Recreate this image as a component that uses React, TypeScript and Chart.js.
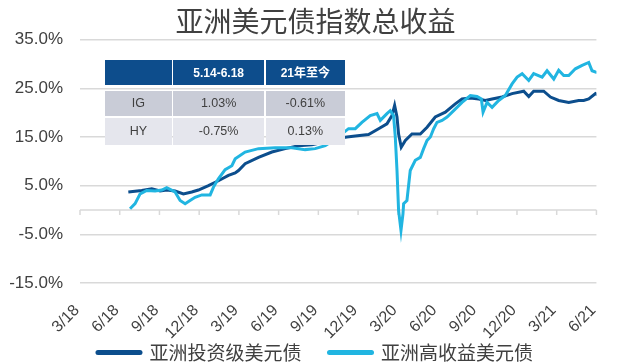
import React, { useEffect, useRef } from 'react';
import { Chart, registerables } from 'chart.js';

Chart.register(...registerables);

// ---------- data ----------
const chartTitle = '亚洲美元债指数总收益';
const quarterLabels = ['3/18', '6/18', '9/18', '12/18', '3/19', '6/19', '9/19', '12/19', '3/20', '6/20', '9/20', '12/20', '3/21', '6/21'];
const yTicks = [-15, -5, 5, 15, 25, 35];
const seriesNames = ['亚洲投资级美元债', '亚洲高收益美元债'];

// months since Mar 2018
const igMonths = [3.65, 4.66, 5.42, 6.05, 6.55, 7.18, 7.81, 8.44, 8.94, 9.7, 10.45, 11.21, 11.72, 11.97, 12.47, 13.48, 14.49, 15.5, 16.5, 17.51, 18.52, 19.43, 20.16, 20.79, 21.79, 22.55, 23.18, 23.56, 23.76, 23.94, 24.06, 24.26, 24.57, 25.07, 25.7, 26.21, 26.83, 27.59, 28.34, 28.85, 29.48, 30.11, 30.61, 31.12, 31.87, 32.63, 33.51, 33.89, 34.26, 35.02, 35.53, 36.15, 36.91, 37.66, 38.04, 38.42, 38.93, 39.08];
const igValues = [3.7, 4.0, 4.35, 3.9, 4.1, 3.9, 3.3, 3.7, 4.1, 5.0, 6.0, 7.1, 7.6, 8.1, 9.5, 10.8, 11.9, 12.6, 13.2, 13.4, 14.0, 14.7, 15.0, 15.2, 15.5, 16.7, 17.7, 19.4, 21.5, 19.1, 15.6, 12.9, 14.3, 15.6, 15.6, 17.0, 19.1, 20.1, 21.8, 22.8, 23.0, 22.8, 22.5, 22.8, 23.2, 23.9, 24.4, 23.3, 24.4, 24.4, 23.2, 22.5, 22.1, 22.5, 22.5, 22.8, 23.9, 23.7];

const hyMonths = [3.78, 4.16, 4.54, 5.04, 5.67, 6.18, 6.55, 7.18, 7.56, 7.94, 8.31, 8.69, 9.2, 9.83, 10.08, 10.45, 10.96, 11.47, 11.72, 12.47, 13.48, 14.74, 16.0, 17.0, 17.76, 18.52, 19.27, 20.28, 20.79, 21.29, 21.92, 22.43, 22.68, 23.18, 23.43, 23.68, 23.81, 23.94, 24.06, 24.24, 24.39, 24.44, 24.69, 24.94, 25.32, 25.7, 25.95, 26.21, 26.46, 26.71, 26.96, 27.34, 27.72, 28.22, 28.85, 29.48, 29.98, 30.31, 30.44, 30.74, 31.12, 31.62, 32.12, 32.63, 33.01, 33.39, 33.89, 34.26, 34.9, 35.27, 35.78, 36.15, 36.53, 36.91, 37.41, 37.92, 38.42, 38.67, 39.05];
const hyValues = [0.25, 1.3, 3.3, 4.0, 3.9, 4.1, 4.6, 3.7, 1.95, 1.3, 1.95, 2.6, 3.1, 3.1, 4.7, 6.4, 8.3, 9.1, 10.5, 11.9, 12.6, 12.8, 12.8, 12.4, 12.6, 13.2, 14.5, 16.7, 16.7, 18.0, 19.4, 19.8, 18.4, 19.8, 20.4, 19.4, 15.0, 8.1, -0.1, -4.2, -0.8, 1.3, 1.95, 8.1, 10.2, 10.8, 12.6, 14.3, 15.0, 16.7, 18.0, 18.4, 19.1, 20.4, 22.1, 23.5, 23.3, 22.8, 20.1, 22.1, 21.1, 22.5, 23.5, 25.9, 27.3, 28.0, 26.6, 28.0, 27.3, 28.6, 26.9, 28.7, 27.6, 27.6, 29.0, 29.7, 30.3, 28.6, 28.2];

const tableHeader = ['', '5.14-6.18', '21年至今'];
const tableRows = [
  ['IG', '1.03%', '-0.61%'],
  ['HY', '-0.75%', '0.13%'],
];

// ---------- styles ----------
const IG_COLOR = '#0c4e8d';
const HY_COLOR = '#21b5e1';
const GRID_COLOR = '#d9d9d9';
const TEXT_COLOR = '#404040';
const LATIN = "'Liberation Sans', Arial, sans-serif";
const CJK = "'Noto Sans CJK SC', 'Liberation Sans', sans-serif";
const TABLE_FONT = "'Liberation Sans', Arial, 'Noto Sans CJK SC', sans-serif";

const zip = (xs: number[], ys: number[]) => xs.map((x, i) => ({ x, y: ys[i] }));

const zeroAxisPlugin = {
  id: 'zeroAxis',
  beforeDatasetsDraw(chart: any) {
    const { ctx, chartArea, scales } = chart;
    const y0 = scales.y.getPixelForValue(0);
    ctx.save();
    ctx.strokeStyle = GRID_COLOR;
    ctx.lineWidth = 1.5;
    ctx.beginPath();
    ctx.moveTo(chartArea.left, y0);
    ctx.lineTo(chartArea.right, y0);
    scales.x.ticks.forEach((t: any) => {
      const x = scales.x.getPixelForValue(t.value);
      ctx.moveTo(x, y0);
      ctx.lineTo(x, y0 + 5);
    });
    ctx.stroke();
    ctx.restore();
  },
};

const colLeft = [105, 173.3, 265.7];
const colWidth = [66.7, 90.7, 79.3];
const rowTop = [60, 91, 118];
const rowHeight = [25, 25, 27];
const rowBg = ['#0d4d8c', '#c9ccd7', '#e5e6ed'];

export default function App() {
  const canvasRef = useRef<HTMLCanvasElement | null>(null);

  useEffect(() => {
    if (!canvasRef.current) return;
    const chart = new Chart(canvasRef.current, {
      type: 'line',
      data: {
        datasets: [
          {
            label: seriesNames[0],
            data: zip(igMonths, igValues),
            borderColor: IG_COLOR,
            backgroundColor: IG_COLOR,
            borderWidth: 3,
            pointRadius: 0,
            tension: 0,
            order: 1,
          },
          {
            label: seriesNames[1],
            data: zip(hyMonths, hyValues),
            borderColor: HY_COLOR,
            backgroundColor: HY_COLOR,
            borderWidth: 3,
            pointRadius: 0,
            tension: 0,
            order: 0,
          },
        ],
      },
      options: {
        responsive: false,
        devicePixelRatio: 1,
        animation: false,
        layout: { padding: { left: 34, right: 23, top: 0, bottom: 0 } },
        plugins: {
          tooltip: { enabled: false },
          title: {
            display: true,
            text: chartTitle,
            color: TEXT_COLOR,
            font: { family: CJK, size: 28, weight: 'normal' },
            padding: { top: 5, bottom: 1 },
          },
          legend: {
            position: 'bottom',
            labels: {
              usePointStyle: true,
              pointStyle: 'line',
              pointStyleWidth: 42,
              padding: 28,
              color: TEXT_COLOR,
              font: { family: CJK, size: 19 },
              generateLabels: (c: any) =>
                (Chart.defaults.plugins.legend.labels as any)
                  .generateLabels(c)
                  .map((l: any) => ({ ...l, lineWidth: 5, lineCap: 'round' }))
                  .sort((a: any, b: any) => a.datasetIndex - b.datasetIndex),
            },
          },
        },
        scales: {
          x: {
            type: 'linear',
            min: 0,
            max: (quarterLabels.length - 1) * 3,
            afterBuildTicks: (s: any) => {
              s.ticks = quarterLabels.map((_, i) => ({ value: i * 3 }));
            },
            afterFit: (s: any) => {
              s.height = 32;
              s._computeLabelArea = () => undefined;
            },
            ticks: {
              autoSkip: false,
              maxRotation: 45,
              minRotation: 45,
              padding: 10,
              labelOffset: -3,
              color: TEXT_COLOR,
              font: { family: LATIN, size: 16 },
              callback: (_v: any, i: number) => quarterLabels[i],
            },
            grid: { display: false },
            border: { display: false },
          },
          y: {
            min: -15,
            max: 35,
            afterBuildTicks: (s: any) => {
              s.ticks = yTicks.map((v) => ({ value: v }));
            },
            afterFit: (s: any) => {
              s.width = 46;
              s._computeLabelArea = () => undefined;
            },
            ticks: {
              padding: 17,
              color: TEXT_COLOR,
              font: { family: LATIN, size: 17 },
              callback: (v: any) => Number(v).toFixed(1) + '%',
            },
            grid: { color: GRID_COLOR, lineWidth: 1.5, drawTicks: false },
            border: { display: false },
          },
        },
      },
      plugins: [zeroAxisPlugin],
    } as any);
    return () => chart.destroy();
  }, []);

  const allRows = [tableHeader, ...tableRows];

  return (
    <div style={{ position: 'fixed', left: 0, top: 0, width: 620, height: 364, overflow: 'hidden', background: '#fff' }}>
      <canvas ref={canvasRef} width={620} height={372} style={{ display: 'block' }} />
      {allRows.map((row, r) =>
        row.map((cell, c) => (
          <div
            key={`${r}-${c}`}
            style={{
              position: 'absolute',
              left: colLeft[c],
              top: rowTop[r],
              width: colWidth[c],
              height: rowHeight[r],
              background: rowBg[r],
              color: r === 0 ? '#ffffff' : TEXT_COLOR,
              fontFamily: TABLE_FONT,
              fontWeight: r === 0 ? 'bold' : 'normal',
              fontSize: r === 0 ? 12 : 12.5,
              display: 'flex',
              alignItems: 'center',
              justifyContent: 'center',
              lineHeight: 1,
            }}
          >
            {cell}
          </div>
        ))
      )}
    </div>
  );
}
